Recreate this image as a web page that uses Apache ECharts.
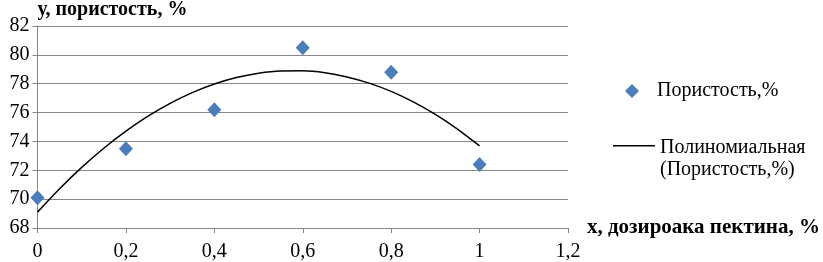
<!DOCTYPE html>
<html><head><meta charset="utf-8">
<script src="https://cdn.jsdelivr.net/npm/echarts@6/dist/echarts.min.js"></script>
<style>html,body{margin:0;padding:0;background:#fff}#c{width:823px;height:262px}</style>
</head><body><div id="c"></div>
<script>
const xValues = [0, 0.2, 0.4, 0.6, 0.8, 1.0];
const porosity = [70.1, 73.5, 76.2, 80.5, 78.8, 72.4];
const trendX = [0, 0.05, 0.1, 0.15, 0.2, 0.25, 0.3, 0.35, 0.4, 0.45, 0.5, 0.55, 0.6, 0.65, 0.7, 0.75, 0.8, 0.85, 0.9, 0.95, 1.0];
const trendY = [69.1, 70.72, 72.2, 73.53, 74.71, 75.75, 76.64, 77.38, 77.98, 78.43, 78.73, 78.88, 78.89, 78.76, 78.47, 78.04, 77.47, 76.74, 75.87, 74.85, 73.69];
const seriesName = 'Пористость,%';
const trendName = 'Полиномиальная\n(Пористость,%)';
const xTitle = 'x, дозироака пектина, %';
const yTitle = 'у, пористость, %';

const font = "'Liberation Serif', 'Times New Roman', serif";
const chart = echarts.init(document.getElementById('c'));
chart.setOption({
  animation: false,
  textStyle: {fontFamily: font, color: '#000'},
  grid: {left: 37.5, right: 255, top: 25, bottom: 34},
  legend: [
    {data: [seriesName], left: 620, top: 76, icon: 'diamond', itemWidth: 14, itemHeight: 14,
     textStyle: {fontFamily: font, fontSize: 20, color: '#000', padding: [0, 0, 0, 13]}},
    {data: [trendName], left: 608, top: 132,
     icon: 'path://M0,8 L42,8 L42,9.5 L0,9.5 Z M0,0 L0.01,0 L0,0.01 Z M0,44 L0.01,44 L0,44.01 Z',
     itemWidth: 42, itemHeight: 44,
     itemStyle: {color: '#000'},
     textStyle: {fontFamily: font, fontSize: 20, color: '#000', lineHeight: 22}}
  ],
  xAxis: {
    type: 'value', min: 0, max: 1.2, interval: 0.2,
    name: xTitle, nameLocation: 'end', nameGap: 19,
    nameTextStyle: {fontFamily: font, fontWeight: 'bold', fontSize: 21, color: '#000', align: 'left', verticalAlign: 'middle', padding: [4, 0, 0, 0]},
    axisLine: {lineStyle: {color: '#868686'}},
    axisTick: {show: true, length: 5, lineStyle: {color: '#868686'}},
    splitLine: {show: false},
    axisLabel: {fontFamily: font, fontSize: 20, color: '#000', margin: 14,
      formatter: v => String(Math.round(v * 10) / 10).replace('.', ',')}
  },
  yAxis: {
    type: 'value', min: 68, max: 82, interval: 2,
    name: yTitle, nameLocation: 'end', nameGap: 6,
    nameTextStyle: {fontFamily: font, fontWeight: 'bold', fontSize: 20, color: '#000', align: 'left', verticalAlign: 'bottom'},
    axisLine: {show: true, lineStyle: {color: '#868686'}},
    axisTick: {show: true, length: 5, lineStyle: {color: '#868686'}},
    splitLine: {show: true, lineStyle: {color: '#868686', width: 1}},
    axisLabel: {fontFamily: font, fontSize: 20, color: '#000', margin: 8}
  },
  series: [
    {name: seriesName, type: 'scatter', symbol: 'diamond', symbolSize: [14, 15],
     itemStyle: {color: '#4A7EBB', opacity: 1},
     data: xValues.map((x, i) => [x, porosity[i]]), z: 3},
    {name: trendName, type: 'line', smooth: 0.3, showSymbol: false, symbol: 'none',
     itemStyle: {color: '#000'},
     lineStyle: {color: '#000', width: 1.5},
     data: trendX.map((x, i) => [x, trendY[i]]), z: 2}
  ]
});
</script></body></html>
